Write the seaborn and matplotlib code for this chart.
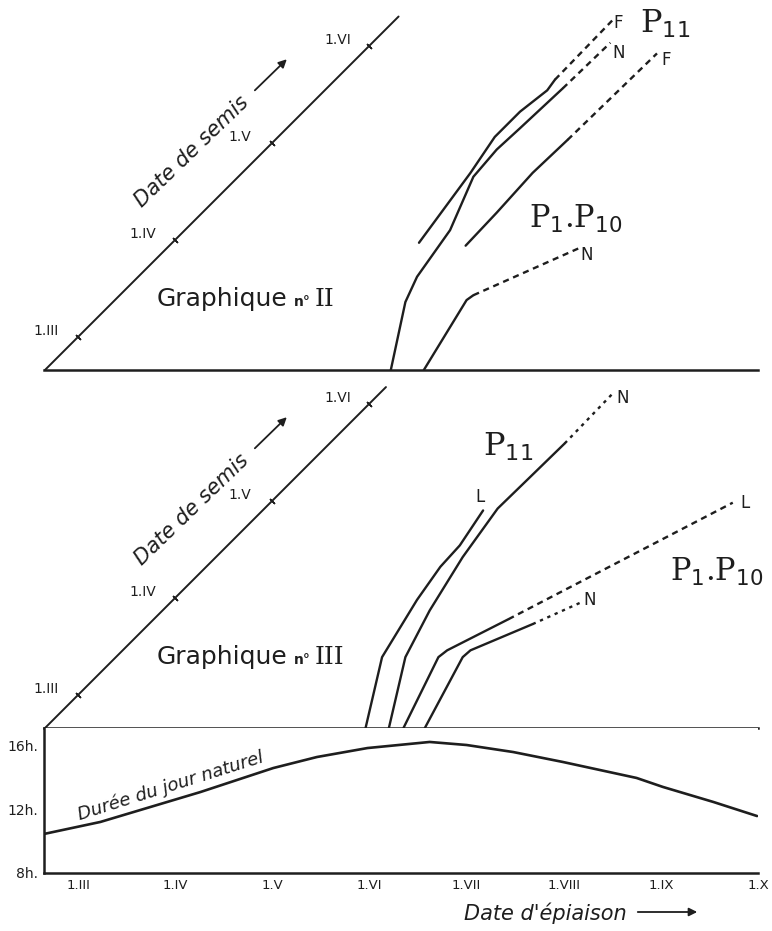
import matplotlib.pyplot as plt
import seaborn as sns

# -------------------------------------------------------------
# Unités : mois (3.0 = 1.III, 4.0 = 1.IV, ... 10.0 = 1.X)
# -------------------------------------------------------------
MOIS = [3, 4, 5, 6, 7, 8, 9, 10]
MOIS_LABELS = ['1.III', '1.IV', '1.V', '1.VI', '1.VII', '1.VIII', '1.IX', '1.X']
SEMIS = [3, 4, 5, 6]
SEMIS_LABELS = ['1.III', '1.IV', '1.V', '1.VI']

# --- Graphique II : date d'épiaison (x) selon la date de semis (y) ---
g2_p11_f_x = [6.51, 7.04, 7.29, 7.55, 7.83, 7.91]
g2_p11_f_y = [3.97, 4.69, 5.06, 5.32, 5.54, 5.65]
g2_p11_f_ext_x = [7.91, 8.50]
g2_p11_f_ext_y = [5.65, 6.26]

g2_p11_n_x = [6.22, 6.37, 6.49, 6.83, 7.07, 7.31, 7.55, 7.99]
g2_p11_n_y = [2.66, 3.36, 3.62, 4.10, 4.65, 4.93, 5.15, 5.56]
g2_p11_n_ext_x = [7.99, 8.48]
g2_p11_n_ext_y = [5.56, 6.03]

g2_p110_f_x = [6.99, 7.31, 7.68, 8.04]
g2_p110_f_y = [3.94, 4.28, 4.69, 5.03]
g2_p110_f_ext_x = [8.04, 8.96]
g2_p110_f_ext_y = [5.03, 5.92]

g2_p110_n_x = [6.56, 7.00, 7.07]
g2_p110_n_y = [2.66, 3.38, 3.43]
g2_p110_n_ext_x = [7.07, 8.17]
g2_p110_n_ext_y = [3.43, 3.92]

# --- Graphique III ---
g3_p11_l_x = [5.96, 6.13, 6.49, 6.73, 6.93, 7.17]
g3_p11_l_y = [2.66, 3.39, 3.98, 4.32, 4.54, 4.90]

g3_p11_n_x = [6.20, 6.37, 6.62, 6.96, 7.32, 7.65, 8.01]
g3_p11_n_y = [2.66, 3.39, 3.87, 4.42, 4.92, 5.24, 5.59]
g3_p11_n_ext_x = [8.01, 8.51]
g3_p11_n_ext_y = [5.59, 6.11]

g3_p110_l_x = [6.35, 6.71, 6.80, 7.43]
g3_p110_l_y = [2.66, 3.39, 3.46, 3.78]
g3_p110_l_ext_x = [7.43, 9.74]
g3_p110_l_ext_y = [3.78, 4.98]

g3_p110_n_x = [6.57, 6.96, 7.04, 7.68]
g3_p110_n_y = [2.66, 3.39, 3.46, 3.73]
g3_p110_n_ext_x = [7.68, 8.17]
g3_p110_n_ext_y = [3.73, 3.95]

# --- Durée du jour naturel (heures) ---
jour_x = [2.65, 3.23, 4.26, 5.01, 5.46, 5.98, 6.52, 6.62, 7.00, 7.48, 7.99, 8.75, 9.02, 9.54, 9.99]
jour_h = [10.44, 11.19, 13.06, 14.56, 15.25, 15.81, 16.13, 16.19, 16.00, 15.56, 14.94, 13.94, 13.38, 12.44, 11.56]
HEURES = [8, 12, 16]
HEURES_LABELS = ['8h.', '12h.', '16h.']

INK = '#1e1e1e'
LW = 1.7
DASH = (0, (2.6, 2.0))
DOT = (0, (1.4, 2.0))

sns.set_style('white')
plt.rcParams['font.family'] = ['DejaVu Sans']

fig = plt.figure(figsize=(7.72, 9.31), dpi=100)

X0, X1 = 2.65, 10.0
BASE = 2.66

ax2 = fig.add_axes([0.057, 0.6026, 0.9249, 0.3953])
ax3 = fig.add_axes([0.057, 0.2180, 0.9249, 0.3798])
axj = fig.add_axes([0.057, 0.0623, 0.9249, 0.1557])


def courbe(ax, x, y, ls='-'):
    sns.lineplot(x=x, y=y, ax=ax, color=INK, linewidth=LW, linestyle=ls,
                 sort=False, estimator=None)


def triangle(ax, top, diag_end, titre):
    ax.set_xlim(X0, X1)
    ax.set_ylim(BASE, top)
    for s in ['top', 'right', 'left']:
        ax.spines[s].set_visible(False)
    ax.spines['bottom'].set_color(INK)
    ax.spines['bottom'].set_linewidth(1.8)
    ax.set_xticks([])
    ax.set_yticks([])
    ax.set_xlabel('')
    ax.set_ylabel('')
    # diagonale : date de semis = date d'épiaison
    ax.plot([BASE, diag_end], [BASE, diag_end], color=INK, lw=1.4)
    ax.plot(SEMIS, SEMIS, ls='none', marker=(2, 2, 45), ms=5, color=INK, mew=1)
    for m, lab in zip(SEMIS, SEMIS_LABELS):
        ax.text(m - 0.33, m + 0.06, lab, fontsize=10, ha='center', va='center', color=INK)
    ax.text(4.17, 4.91, 'Date de semis', rotation=44, rotation_mode='anchor',
            fontsize=15, style='italic', ha='center', va='center', color=INK)
    ax.annotate('', xy=(5.17, 5.88), xytext=(4.80, 5.52),
                arrowprops=dict(arrowstyle='-|>', color=INK, lw=1.3, mutation_scale=12))
    ax.text(3.81, 3.32, 'Graphique', fontsize=18, ha='left', va='baseline', color=INK)
    ax.text(5.22, 3.32, 'n°', fontsize=10, weight='bold', ha='left', va='baseline', color=INK)
    ax.text(5.44, 3.32, titre, fontsize=18, family='DejaVu Serif', ha='left',
            va='baseline', color=INK)


# ---------------- Graphique II ----------------
triangle(ax2, 6.45, 6.30, 'II')
courbe(ax2, g2_p11_f_x, g2_p11_f_y)
courbe(ax2, g2_p11_f_ext_x, g2_p11_f_ext_y, DASH)
courbe(ax2, g2_p11_n_x, g2_p11_n_y)
courbe(ax2, g2_p11_n_ext_x, g2_p11_n_ext_y, DASH)
courbe(ax2, g2_p110_f_x, g2_p110_f_y)
courbe(ax2, g2_p110_f_ext_x, g2_p110_f_ext_y, DASH)
courbe(ax2, g2_p110_n_x, g2_p110_n_y)
courbe(ax2, g2_p110_n_ext_x, g2_p110_n_ext_y, DASH)

ax2.text(8.56, 6.23, 'F', fontsize=12, ha='center', va='center', color=INK)
ax2.text(8.56, 5.92, 'N', fontsize=12, ha='center', va='center', color=INK)
ax2.text(9.05, 5.85, 'F', fontsize=12, ha='center', va='center', color=INK)
ax2.text(8.24, 3.84, 'N', fontsize=12, ha='center', va='center', color=INK)
ax2.text(9.04, 6.22, r'P$_{11}$', fontsize=23, family='DejaVu Serif',
         ha='center', va='center', color=INK)
ax2.text(8.12, 4.22, r'P$_{1}$.P$_{10}$', fontsize=22, family='DejaVu Serif',
         ha='center', va='center', color=INK)

# ---------------- Graphique III ----------------
triangle(ax3, 6.30, 6.17, 'III')
courbe(ax3, g3_p11_l_x, g3_p11_l_y)
courbe(ax3, g3_p11_n_x, g3_p11_n_y)
courbe(ax3, g3_p11_n_ext_x, g3_p11_n_ext_y, DOT)
courbe(ax3, g3_p110_l_x, g3_p110_l_y)
courbe(ax3, g3_p110_l_ext_x, g3_p110_l_ext_y, DASH)
courbe(ax3, g3_p110_n_x, g3_p110_n_y)
courbe(ax3, g3_p110_n_ext_x, g3_p110_n_ext_y, DOT)

ax3.text(8.61, 6.06, 'N', fontsize=12, ha='center', va='center', color=INK)
ax3.text(7.14, 5.04, 'L', fontsize=12, ha='center', va='center', color=INK)
ax3.text(9.87, 4.98, 'L', fontsize=12, ha='center', va='center', color=INK)
ax3.text(8.27, 3.98, 'N', fontsize=12, ha='center', va='center', color=INK)
ax3.text(7.43, 5.56, r'P$_{11}$', fontsize=23, family='DejaVu Serif',
         ha='center', va='center', color=INK)
ax3.text(9.58, 4.27, r'P$_{1}$.P$_{10}$', fontsize=22, family='DejaVu Serif',
         ha='center', va='center', color=INK)

# ---------------- Durée du jour ----------------
sns.lineplot(x=jour_x, y=jour_h, ax=axj, color=INK, linewidth=1.9, sort=False, estimator=None)
axj.set_xlim(X0, X1)
axj.set_ylim(8, 17.06)
axj.spines['top'].set_visible(False)
axj.spines['right'].set_visible(False)
for s in ['left', 'bottom']:
    axj.spines[s].set_color(INK)
    axj.spines[s].set_linewidth(1.8)
axj.set_xticks(MOIS)
axj.set_xticklabels(MOIS_LABELS, fontsize=9.5)
axj.set_yticks(HEURES)
axj.set_yticklabels(HEURES_LABELS, fontsize=10)
axj.tick_params(axis='both', direction='in', length=4, width=1, colors=INK, pad=4)
axj.set_xlabel('')
axj.set_ylabel('')
axj.text(3.95, 13.45, 'Durée du jour naturel', rotation=17.5, rotation_mode='anchor',
         fontsize=13, style='italic', ha='center', va='center', color=INK)

fig.text(545 / 772, 1 - 913 / 931, "Date d'épiaison", fontsize=15, style='italic',
         ha='center', va='center', color=INK)
axj.annotate('', xy=(700 / 772, 1 - 912 / 931), xytext=(635 / 772, 1 - 912 / 931),
             xycoords='figure fraction', textcoords='figure fraction',
             arrowprops=dict(arrowstyle='-|>', color=INK, lw=1.3, mutation_scale=12))

fig.savefig('out.png', dpi=100, facecolor='white')
